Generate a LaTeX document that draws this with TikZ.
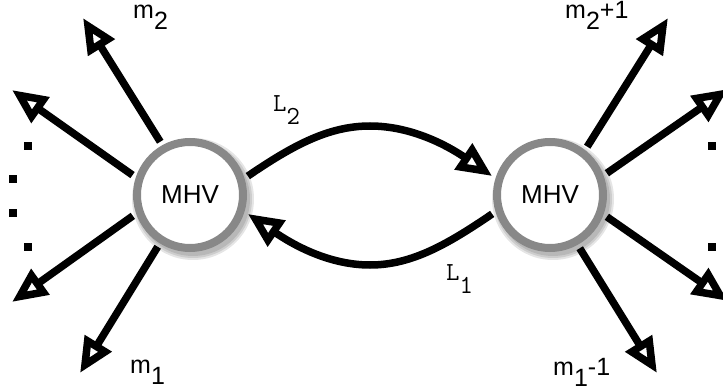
\documentclass[tikz,border=0pt]{standalone}
\usepackage{fontspec}
\setmainfont{Liberation Sans}
\usetikzlibrary{arrows.meta}
\definecolor{ringgray}{HTML}{888888}
\newcommand{\lowsub}[1]{\raisebox{-11pt}{#1}}
\newcommand{\lowsubm}[1]{\raisebox{-13pt}{#1}}
\begin{document}
\begin{tikzpicture}[x=1pt,y=-1pt,
  mhv/.style={circle, draw=ringgray, fill=white, line width=8pt, minimum size=106pt, inner sep=0pt, font=\fontsize{26}{26}\selectfont},
  leg/.style={line width=7.5pt, line join=miter, -{Triangle[open,length=35pt,width=30pt]}, shorten <=4pt},
  link/.style={leg, shorten >=4pt},
  dotsq/.style={fill=black, minimum size=7.5pt, inner sep=0pt},
  lab/.style={anchor=base west, inner sep=0pt, font=\fontsize{25}{25}\selectfont},
  mlab/.style={lab, font=\ttfamily\fontsize{26}{26}\selectfont},
  shade/.style={fill=black, opacity=0.1}
]
\useasboundingbox (0,0) rectangle (723,390);
\fill[white] (0,0) rectangle (723,390);
\coordinate (cL) at (190,195);
\coordinate (cR) at (550,195);
% soft shadows
\foreach \r in {57,59,61}{
  \fill[shade] ([shift={(3,4)}]cL) circle[radius=\r];
  \fill[shade] ([shift={(3,4)}]cR) circle[radius=\r];
}
\node[mhv] (L) at (cL) {MHV};
\node[mhv] (R) at (cR) {MHV};
% free ends
\coordinate (tm2) at (83,18);
\coordinate (tul) at (12,90);
\coordinate (tll) at (12,302);
\coordinate (tm1) at (80,373);
\coordinate (tm2p) at (668,18);
\coordinate (tur) at (728,89);
\coordinate (tlr) at (728,301);
\coordinate (tm1m) at (657,373);
\coordinate (top) at (370,126);
\coordinate (bot) at (370,265);
% legs
\draw[leg] (L.119) -- (tm2);
\draw[leg] (L.162) -- (tul);
\draw[leg] (L.199) -- (tll);
\draw[leg] (L.238) -- (tm1);
\draw[leg] (R.52) -- (tm2p);
\draw[leg] (R.20) -- (tur);
\draw[leg] (R.-20) -- (tlr);
\draw[leg] (R.-61) -- (tm1m);
% loop
\draw[link] (L.17) .. controls (292,146) and (328,126) .. (top) .. controls (412,126) and (448,146) .. (R.163);
\draw[link] (R.197) .. controls (448,244) and (412,265) .. (bot) .. controls (328,265) and (292,244) .. (L.-17);
% dots
\node[dotsq] (dl1) at (28,146) {};
\node[dotsq] (dl2) at (13,179) {};
\node[dotsq] (dl3) at (13,213) {};
\node[dotsq] (dl4) at (28,247) {};
\node[dotsq] (dr1) at (712,146) {};
\node[dotsq] (dr2) at (727,179) {};
\node[dotsq] (dr3) at (727,213) {};
\node[dotsq] (dr4) at (712,247) {};
% labels
\node[lab] (lm2) at (133,19) {m\lowsub{2}};
\node[lab] (lm1) at (130,373) {m\lowsub{1}};
\node[lab] (lm2p) at (565,19) {m\lowsub{2}+1};
\node[lab] (lm1m) at (553,375) {m\lowsub{1}-1};
\node[mlab] (lL2) at (273,112) {L\lowsubm{2}};
\node[mlab] (lL1) at (446,280) {L\lowsubm{1}};
\end{tikzpicture}
\end{document}
